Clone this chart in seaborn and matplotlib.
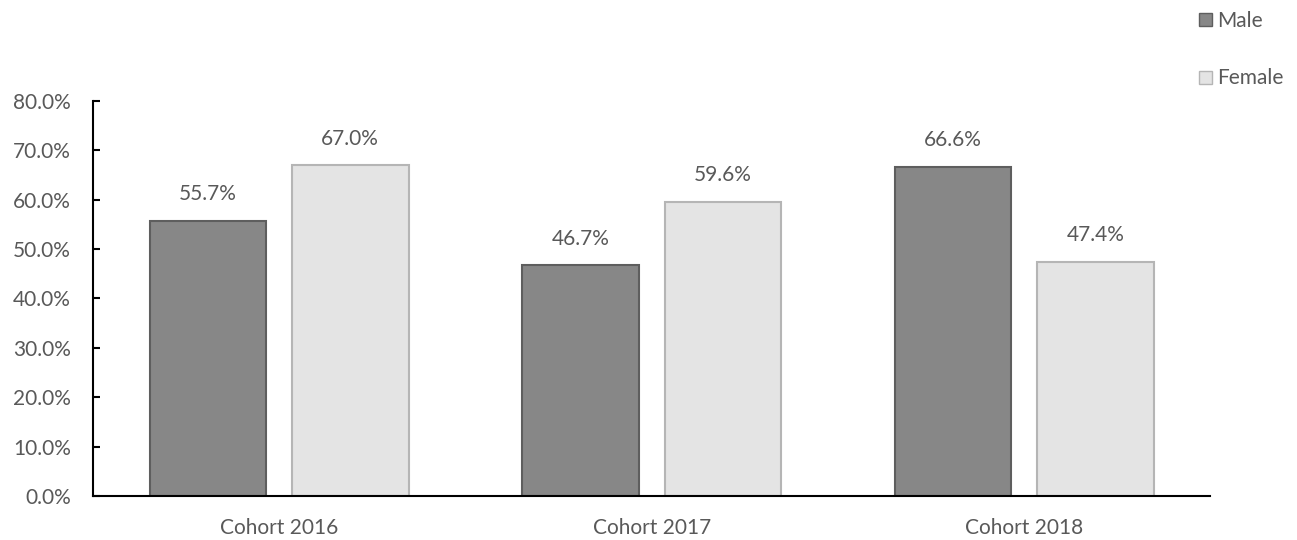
import pandas as pd
import numpy as np
import matplotlib.pyplot as plt
import seaborn as sns
from matplotlib.patches import Patch

# Data
cohorts = ['Cohort 2016', 'Cohort 2017', 'Cohort 2018']
male = [55.7, 46.7, 66.6]
female = [67.0, 59.6, 47.4]
groups = ['Male', 'Female']

df = pd.DataFrame({
    'cohort': cohorts * 2,
    'group': ['Male'] * 3 + ['Female'] * 3,
    'value': male + female,
})

sns.set_style('white')
plt.rcParams['font.family'] = ['Lato', 'DejaVu Sans']
text_color = '#595959'
fs = 15

fig = plt.figure(figsize=(12.97, 5.4), dpi=100)
ax = fig.add_axes([0.0717, 0.0815, 0.8616, 0.7315])

palette = {'Male': '#878787', 'Female': '#e4e4e4'}
sns.barplot(data=df, x='cohort', y='value', hue='group', hue_order=groups,
            palette=palette, width=0.763, gap=0.18, ax=ax, legend=False,
            saturation=1)

# darker bevel-like edges
edge = {'Male': '#5e5e5e', 'Female': '#b5b5b5'}
for cont, g in zip(ax.containers, groups):
    for bar in cont:
        bar.set_edgecolor(edge[g])
        bar.set_linewidth(1.5)
    ax.bar_label(cont, labels=[f'{v:.1f}%' for v in cont.datavalues],
                 padding=12, fontsize=fs, color=text_color)

ax.set_ylim(0, 80)
ax.set_yticks(np.arange(0, 81, 10))
ax.set_yticklabels([f'{t:.1f}%' for t in np.arange(0, 81, 10)])
ax.set_xlim(-0.5, 2.5)
ax.set_xlabel('')
ax.set_ylabel('')
ax.tick_params(axis='y', direction='in', length=5, width=1.5, color='black',
               left=True, labelsize=fs, labelcolor=text_color, pad=16)
ax.tick_params(axis='x', length=0, labelsize=fs, labelcolor=text_color, pad=16)
for s in ['top', 'right']:
    ax.spines[s].set_visible(False)
for s in ['left', 'bottom']:
    ax.spines[s].set_color('black')
    ax.spines[s].set_linewidth(1.5)

# legend at upper right, outside the axes
handles = [Patch(facecolor=palette[g], edgecolor=edge[g], label=g) for g in groups]
fig.legend(handles=handles, loc='upper left', bbox_to_anchor=(1199 / 1297, 1 - 11 / 540),
           frameon=False, fontsize=fs, labelcolor=text_color,
           handlelength=0.6, handleheight=0.6, handletextpad=0.25,
           labelspacing=1.8, borderaxespad=0, borderpad=0)

fig.savefig('out.png', dpi=100)
